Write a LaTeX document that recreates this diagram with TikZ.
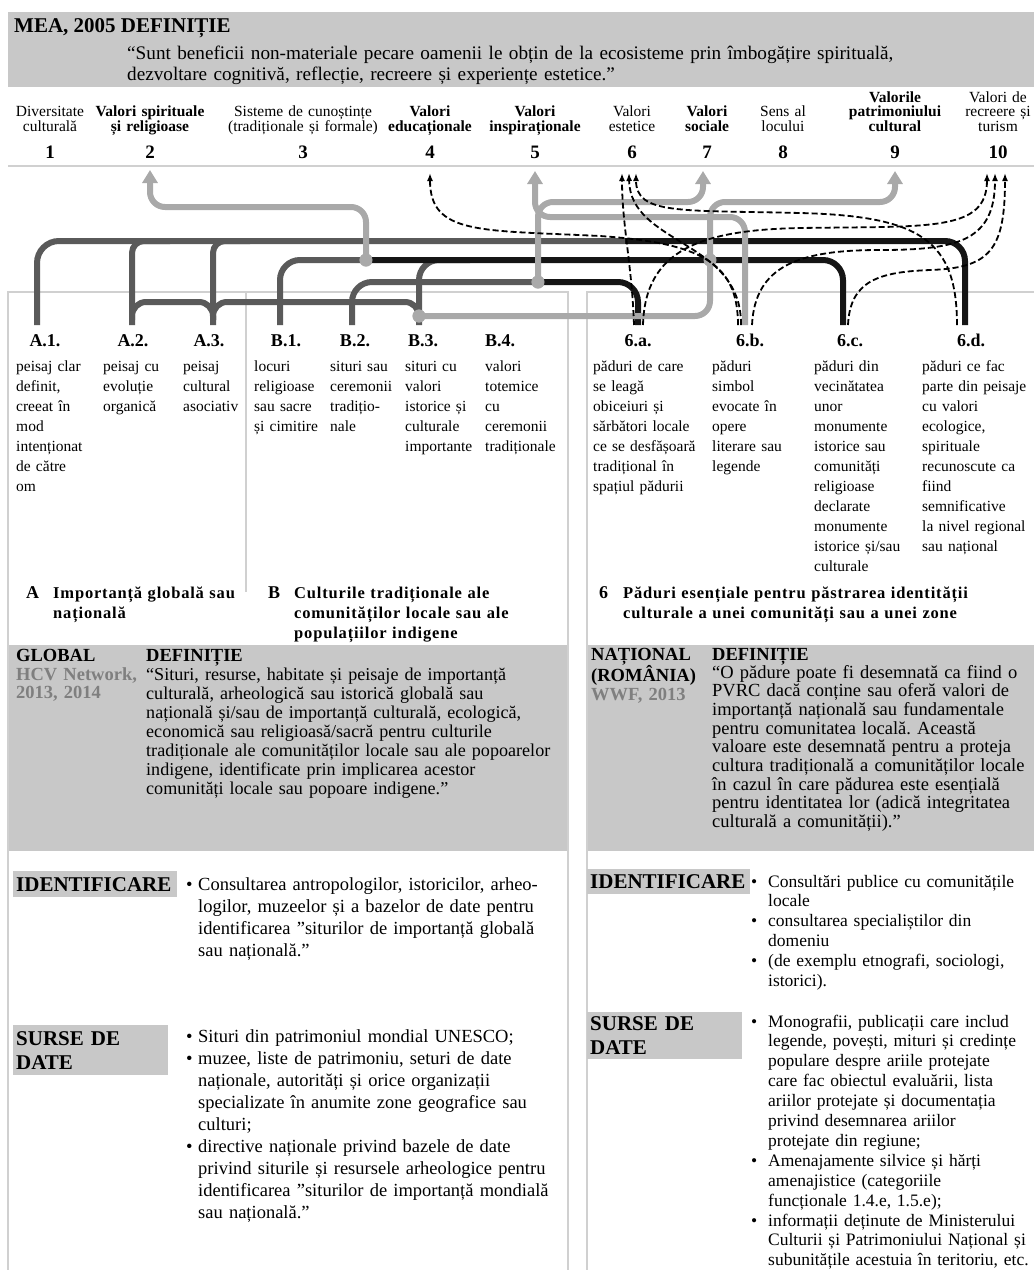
\documentclass[tikz,border=0pt]{standalone}
\usepackage{fontspec}
\setmainfont{Liberation Serif}
\usetikzlibrary{arrows,arrows.meta,positioning}
\frenchspacing

\definecolor{cBand}{HTML}{C8C8C8}
\definecolor{cFrame}{HTML}{D0D0D0}
\definecolor{cDark}{HTML}{5A5A5A}
\definecolor{cBlack}{HTML}{151515}
\definecolor{cGrey}{HTML}{A9A9A9}
\definecolor{cSrc}{HTML}{7F7F7F}

% punct de lista cu indentare agatata
\newcommand{\bitem}[1]{\noindent\hangindent=#1\relax\hangafter=1\relax\makebox[#1][l]{\textbullet}}

\tikzset{
  meahd/.style   = {font=\fontsize{21}{21}\selectfont\bfseries, anchor=base west, inner sep=0pt},
  meaq/.style    = {font=\fontsize{19.2}{21}\selectfont, text width=880pt, align=left,
                    anchor=base west, inner sep=0pt},
  hdr/.style     = {font=\fontsize{15.5}{14.5}\selectfont, text width=160pt, align=center,
                    anchor=south, inner sep=0pt},
  hdrb/.style    = {hdr, font=\fontsize{15.5}{14.5}\selectfont\bfseries},
  num/.style     = {font=\fontsize{19}{19}\selectfont\bfseries, anchor=base, inner sep=0pt},
  tag/.style     = {font=\fontsize{18}{18}\selectfont\bfseries, anchor=base, inner sep=0pt},
  itm/.style     = {font=\fontsize{15.5}{20}\selectfont, text width=120pt, align=left,
                    anchor=base west, inner sep=0pt},
  grpkey/.style  = {font=\fontsize{18}{20}\selectfont\bfseries, anchor=base west, inner sep=0pt},
  grp/.style     = {font=\fontsize{16.5}{20}\selectfont\bfseries\addfontfeature{LetterSpace=5},
                    text width=400pt, align=left, anchor=base west, inner sep=0pt},
  scopehd/.style = {font=\fontsize{18.5}{18.5}\selectfont\bfseries, text width=130pt, align=left,
                    anchor=base west, inner sep=0pt},
  src/.style     = {scopehd, text=cSrc},
  deftxt/.style  = {font=\fontsize{18.5}{18.7}\selectfont, text width=440pt, align=left,
                    anchor=base west, inner sep=0pt},
  tagbox/.style  = {fill=cBand, font=\fontsize{21}{24}\selectfont\bfseries, align=left,
                    anchor=north west, inner xsep=3pt, inner ysep=0pt},
  bulL/.style    = {font=\fontsize{18.5}{22}\selectfont, text width=370pt, align=left,
                    anchor=base west, inner sep=0pt},
  bulR/.style    = {font=\fontsize{17.5}{19.9}\selectfont, text width=290pt, align=left,
                    anchor=base west, inner sep=0pt},
  darkline/.style  = {draw=cDark, line width=6pt},
  blackline/.style = {draw=cBlack, line width=6pt},
  greyline/.style  = {draw=cGrey, line width=6pt, -{Triangle[width=15pt,length=13pt]}},
  dashline/.style  = {draw=black, line width=1.8pt, dash pattern=on 6pt off 3pt,
                      -{Latex[width=6pt,length=8pt]}},
  gdot/.style    = {circle, fill=cGrey, inner sep=0pt, minimum size=13pt},
  lnframe/.style = {draw=cFrame, line width=1.5pt},
}

\begin{document}
\begin{tikzpicture}[x=1pt, y=-1pt, >=latex]
\useasboundingbox (0,0) rectangle (1034,1270);

% definitia MEA
\fill[cBand] (8,12) rectangle (1034,87);
\node[meahd] (mea) at (14,32) {MEA, 2005 DEFINIȚIE};
\node[meaq] (meaq) at (127,59) {“Sunt beneficii non-materiale pecare oamenii le obțin de la ecosisteme prin îmbogățire spirituală,\\dezvoltare cognitivă, reflecție, recreere și experiențe estetice.”};
\draw[lnframe] (8,166) -- (1034,166);

% cele 10 valori
\node[hdr]  (v1)  at (50,136)  {Diversitate\\culturală\strut};
\node[hdrb] (v2)  at (150,136) {Valori spirituale\\și religioase\strut};
\node[hdr]  (v3)  at (303,136) {Sisteme de cunoștințe\\(tradiționale și formale)\strut};
\node[hdrb] (v4)  at (430,136) {Valori\\educaționale\strut};
\node[hdrb] (v5)  at (535,136) {Valori\\inspiraționale\strut};
\node[hdr]  (v6)  at (632,136) {Valori\\estetice\strut};
\node[hdrb] (v7)  at (707,136) {Valori\\sociale\strut};
\node[hdr]  (v8)  at (783,136) {Sens al\\locului\strut};
\node[hdrb] (v9)  at (895,136) {Valorile\\patrimoniului\\cultural\strut};
\node[hdr]  (v10) at (998,136) {Valori de\\recreere și\\turism\strut};
\foreach \i/\x in {1/50,2/150,3/303,4/430,5/535,6/632,7/707,8/783,9/895,10/998}
  \node[num] (k\i) at (\x,158) {\i};

% cadrele
\fill[cBand] (8,645) rectangle (567,851);
\fill[cBand] (587,645) rectangle (1034,851);
\draw[lnframe] (8,1270) -- (8,292) -- (568,292) -- (568,1270);
\draw[lnframe] (246,292) -- (246,592);
\draw[lnframe] (587,1270) -- (587,292) -- (1034,292);

% subcategoriile
\node[tag] (la1) at (45,346)  {A.1.};
\node[tag] (la2) at (133,346) {A.2.};
\node[tag] (la3) at (209,346) {A.3.};
\node[tag] (lb1) at (286,346) {B.1.};
\node[tag] (lb2) at (355,346) {B.2.};
\node[tag] (lb3) at (423,346) {B.3.};
\node[tag] (lb4) at (500,346) {B.4.};
\node[tag] (l6a) at (638,346) {6.a.};
\node[tag] (l6b) at (750,346) {6.b.};
\node[tag] (l6c) at (850,346) {6.c.};
\node[tag] (l6d) at (971,346) {6.d.};

\node[itm] (ia1) at (16,371)  {peisaj clar\\definit,\\creeat în\\mod\\intenționat\\de către\\om};
\node[itm] (ia2) at (103,371) {peisaj cu\\evoluție\\organică};
\node[itm] (ia3) at (183,371) {peisaj\\cultural\\asociativ};
\node[itm] (ib1) at (254,371) {locuri\\religioase\\sau sacre\\și cimitire};
\node[itm] (ib2) at (330,371) {situri sau\\ceremonii\\tradițio-\\nale};
\node[itm] (ib3) at (405,371) {situri cu\\valori\\istorice și\\culturale\\importante};
\node[itm] (ib4) at (485,371) {valori\\totemice\\cu\\ceremonii\\tradiționale};
\node[itm] (i6a) at (593,371) {păduri de care\\se leagă\\obiceiuri și\\sărbători locale\\ce se desfășoară\\tradițional în\\spațiul pădurii};
\node[itm] (i6b) at (712,371) {păduri\\simbol\\evocate în\\opere\\literare sau\\legende};
\node[itm] (i6c) at (814,371) {păduri din\\vecinătatea\\unor\\monumente\\istorice sau\\comunități\\religioase\\declarate\\monumente\\istorice și/sau\\culturale};
\node[itm] (i6d) at (922,371) {păduri ce fac\\parte din peisaje\\cu valori\\ecologice,\\spirituale\\recunoscute ca\\fiind\\semnificative\\la nivel regional\\sau național};

% grupele A, B, 6
\node[grpkey] (ga)  at (26,598)  {A};
\node[grp]    (gat) at (53,598)  {Importanță globală sau\\națională};
\node[grpkey] (gb)  at (268,598) {B};
\node[grp]    (gbt) at (294,598) {Culturile tradiționale ale\\comunităților locale sau ale\\populațiilor indigene};
\node[grpkey] (g6)  at (599,598) {6};
\node[grp]    (g6t) at (623,598) {Păduri esențiale pentru păstrarea identității\\culturale a unei comunități sau a unei zone};

% definitii
\node[scopehd] (glob) at (16,661)  {GLOBAL};
\node[src]     (hcv)  at (16,680)  {HCV Network,\\2013, 2014};
\node[scopehd] (defl) at (146,661) {DEFINIȚIE};
\node[deftxt, font=\fontsize{18.1}{19}\selectfont] (dql) at (146,680) {“Situri, resurse, habitate și peisaje de importanță\\culturală, arheologică sau istorică globală sau\\națională și/sau de importanță culturală, ecologică,\\economică sau religioasă/sacră pentru culturile\\tradiționale ale comunităților locale sau ale popoarelor\\indigene, identificate prin implicarea acestor\\comunități locale sau popoare indigene.”};
\node[scopehd] (nat)  at (591,660) {NAȚIONAL\\(ROMÂNIA)};
\node[src]     (wwf)  at (591,700) {WWF, 2013};
\node[scopehd] (defr) at (712,660) {DEFINIȚIE};
\node[deftxt]  (dqr)  at (712,678) {“O pădure poate fi desemnată ca fiind o\\PVRC dacă conține sau oferă valori de\\importanță națională sau fundamentale\\pentru comunitatea locală. Această\\valoare este desemnată pentru a proteja\\cultura tradițională a comunităților locale\\în cazul în care pădurea este esențială\\pentru identitatea lor (adică integritatea\\culturală a comunității).”};

% identificare si surse
\node[tagbox, text width=158pt, minimum height=26pt] (idl) at (13,871)  {IDENTIFICARE};
\node[tagbox, text width=149pt, minimum height=50pt] (srl) at (13,1025) {SURSE DE\\DATE};
\node[tagbox, text width=157pt, minimum height=25pt] (idr) at (587,869) {IDENTIFICARE};
\node[tagbox, text width=149pt, minimum height=47pt] (srr) at (587,1012) {SURSE DE\\DATE};

\node[bulL] (bil) at (186,890) {\bitem{12pt}Consultarea antropologilor, istoricilor, arheo-\newline logilor, muzeelor și a bazelor de date pentru\newline identificarea "siturilor de importanță globală\newline sau națională.”\par};
\node[bulL] (bsl) at (186,1042) {\bitem{12pt}Situri din patrimoniul mondial UNESCO;\par
  \bitem{12pt}muzee, liste de patrimoniu, seturi de date\newline naționale, autorități și orice organizații\newline specializate în anumite zone geografice sau\newline culturi;\par
  \bitem{12pt}directive naționale privind bazele de date\newline privind siturile și resursele arheologice pentru\newline identificarea ”siturilor de importanță mondială\newline sau națională.”\par};
\node[bulR] (bir) at (751,887) {\bitem{17pt}Consultări publice cu comunitățile\newline locale\par
  \bitem{17pt}consultarea specialiștilor din\newline domeniu\par
  \bitem{17pt}(de exemplu etnografi, sociologi,\newline istorici).\par};
\node[bulR] (bsr) at (751,1027) {\bitem{17pt}Monografii, publicații care includ\newline legende, povești, mituri și credințe\newline populare despre ariile protejate\newline care fac obiectul evaluării, lista\newline ariilor protejate și documentația\newline privind desemnarea ariilor\newline protejate din regiune;\par
  \bitem{17pt}Amenajamente silvice și hărți\newline amenajistice (categoriile\newline funcționale 1.4.e, 1.5.e);\par
  \bitem{17pt}informații deținute de Ministerului\newline Culturii și Patrimoniului Național și\newline subunitățile acestuia în teritoriu, etc.\par};

% capetele legaturilor
\coordinate (fa1) at (37,325);  \coordinate (fa2) at (132,325); \coordinate (fa3) at (213,325);
\coordinate (fb1) at (280,325); \coordinate (fb2) at (352,325); \coordinate (fb3) at (419,325);
\coordinate (f6a) at (638,325); \coordinate (f6b) at (745,325);
\coordinate (f6c) at (843,325); \coordinate (f6d) at (965,325);
\coordinate (e6a1) at (634,325); \coordinate (e6a2) at (643,325);
\coordinate (e6b1) at (738,325); \coordinate (e6b2) at (741,325); \coordinate (e6b3) at (752,325);
\coordinate (e6c) at (848,325);  \coordinate (e6d) at (957,325);
\coordinate (tip2) at (150,170); \coordinate (tip5) at (535,171);
\coordinate (tip7) at (703,171); \coordinate (tip9) at (895,171);
\coordinate (tip4) at (430,173);
\coordinate (tip6a) at (622,173); \coordinate (tip6b) at (629,173); \coordinate (tip6c) at (636,173);
\coordinate (tip10a) at (987,173); \coordinate (tip10b) at (995,173); \coordinate (tip10c) at (1005,173);

% linii groase
\draw[darkline, rounded corners=22] (fa1) -- (37,241) -- (625,241);
\draw[blackline, rounded corners=20] (625,241) -- (965,241) -- (f6d);
\draw[darkline, rounded corners=12] (fa2) -- (132,241) -- (170,241);
\draw[darkline, rounded corners=12] (fa3) -- (213,241) -- (250,241);
\draw[darkline, rounded corners=14] (132,320) -- (132,302) -- (213,302) -- (213,320);
\draw[darkline, rounded corners=14] (213,320) -- (213,302) -- (419,302) -- (419,316);
\draw[darkline, rounded corners=20] (fb3) -- (419,260) -- (470,260);
\draw[darkline, rounded corners=20] (fb1) -- (280,260) -- (366,260);
\draw[darkline, rounded corners=20] (fb2) -- (352,282) -- (538,282);
\node[gdot] (p1) at (366,260) {};
\node[gdot] (p2) at (538,282) {};
\node[gdot] (p3) at (710,260) {};
\node[gdot] (p4) at (419,316) {};
\draw[blackline, rounded corners=20] (p1.center) -- (843,260) -- (f6c);
\draw[blackline, rounded corners=20] (p2.center) -- (638,282) -- (f6a);

% sagetile gri
\draw[greyline, rounded corners=15] (p1.center) -- (366,207) -- (150,207) -- (tip2);
\draw[greyline, rounded corners=15] (p2.center) -- (538,202) -- (703,202) -- (tip7);
\draw[greyline, rounded corners=15] (f6b) -- (745,217) -- (535,217) -- (tip5);
\draw[greyline, rounded corners=15] (p4.center) -- (710,316) -- (710,202) -- (895,202) -- (tip9);
\foreach \p in {p1,p2,p3,p4}
  \fill[cGrey] (\p) circle (6.5);

% legaturi punctate
\draw[dashline] (e6a1) .. controls (632,265) and (622,225) .. (tip6a);
\draw[dashline] (e6b2) .. controls (742,240) and (630,245) .. (tip6b);
\draw[dashline] (e6d) .. controls (957,240) and (920,216) .. (800,213) .. controls (680,210) and (636,215) .. (tip6c);
\draw[dashline] (e6b1) .. controls (738,262) and (700,243) .. (600,236) .. controls (480,230) and (430,235) .. (tip4);
\draw[dashline] (e6a2) .. controls (645,250) and (700,230) .. (800,228) .. controls (930,226) and (987,232) .. (tip10a);
\draw[dashline] (e6b3) .. controls (755,265) and (800,250) .. (880,250) .. controls (960,250) and (995,240) .. (tip10b);
\draw[dashline] (e6c) .. controls (850,280) and (880,272) .. (930,270) .. controls (990,268) and (1005,250) .. (tip10c);

\end{tikzpicture}
\end{document}
